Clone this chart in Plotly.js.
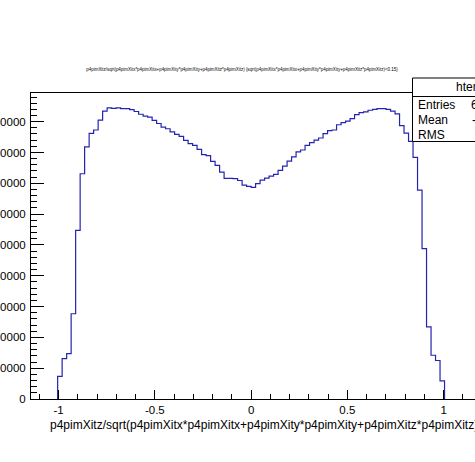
<!DOCTYPE html>
<html>
<head>
<meta charset="utf-8">
<script src="https://cdn.plot.ly/plotly-3.0.1.min.js"></script>
<style>
html,body{margin:0;padding:0;overflow:hidden;background:#fff;}
#chart{width:560px;height:462px;}
</style>
</head>
<body>
<div id="chart"></div>
<script>
// Histogram binning
const binLow = -1.005;
const binWidth = 0.02337;
const counts = [
  7340, 13080, 14720, 27660, 54700, 73100, 81800, 86200, 87300, 90500,
  93400, 94500, 94300, 94500, 94200, 94200, 93900, 93300, 92400, 91800,
  91500, 90400, 89400, 88200, 87700, 86700, 85900, 85200, 83900, 82900,
  82300, 81000, 79300, 79000, 77100, 75800, 73600, 71600, 71600, 71500,
  70900, 69400, 69000, 68700, 69900, 71000, 71700, 72300, 72900, 74200,
  75600, 77200, 78600, 80200, 80800, 82300, 83200, 84000, 84700, 86100,
  87100, 87300, 89000, 89700, 90200, 91000, 92300, 92900, 93200, 93700,
  94000, 94200, 94200, 94000, 93400, 92500, 88700, 86300, 83600, 78400,
  67800, 48800, 23400, 14200, 12500, 5900
];
const xTickVals = [-1, -0.5, 0, 0.5, 1];
const xTickText = ["-1", "-0.5", "0", "0.5", "1"];
const yTickVals = [0, 10000, 20000, 30000, 40000, 50000, 60000, 70000, 80000, 90000];
const yTickText = ["0", "10000", "20000", "30000", "40000", "50000", "60000", "70000", "80000", "90000"];
const histTitle = "p4pimXitz/sqrt(p4pimXitx*p4pimXitx+p4pimXity*p4pimXity+p4pimXitz*p4pimXitz) {sqrt(p4pimXitx*p4pimXitx+p4pimXity*p4pimXity+p4pimXitz*p4pimXitz)<0.15}";
const xTitle = "p4pimXitz/sqrt(p4pimXitx*p4pimXitx+p4pimXity*p4pimXity+p4pimXitz*p4pimXitz)";
const statsName = "htemp";
const statsLabels = ["Entries", "Mean", "RMS"];
const statsValues = ["6512838", "-0.01234", "0.5519"];

// Build step outline: start at bottom of first edge, end at bottom of last edge
const xs = [binLow], ys = [0];
for (let i = 0; i < counts.length; i++) { xs.push(binLow + i * binWidth); ys.push(counts[i]); }
xs.push(binLow + counts.length * binWidth); ys.push(0);

const W = 560, H = 462, L = 31, T = 93, B = 63, PW = 470;
const R = W - L - PW;
const PH = H - T - B;
const px = p => (p - L) / PW;          // pixel -> paper x
const py = p => (T + PH - p) / PH;      // pixel -> paper y

const font = "Liberation Sans, Arial, Helvetica, sans-serif";

const trace = {
  type: 'scatter', mode: 'lines', x: xs, y: ys,
  line: {shape: 'hv', color: '#2424b0', width: 1.2},
  hoverinfo: 'skip', showlegend: false
};

const annotations = [
  {xref: 'paper', yref: 'paper', x: px(48), y: py(425), xanchor: 'left', yanchor: 'middle',
   text: xTitle, showarrow: false, font: {family: font, size: 12.0, color: '#000'}},
  {xref: 'paper', yref: 'paper', x: px(454), y: py(87), xanchor: 'left', yanchor: 'middle',
   text: statsName, showarrow: false, font: {family: font, size: 12, color: '#000'}}
];
const statLabelY = [104.5, 119.5, 134.5];
const statValueX = [469, 469.5, 482];
statsLabels.forEach((lab, i) => {
  annotations.push({xref: 'paper', yref: 'paper', x: px(416), y: py(statLabelY[i]), xanchor: 'left', yanchor: 'middle',
    text: lab, showarrow: false, font: {family: font, size: 12, color: '#000'}});
  annotations.push({xref: 'paper', yref: 'paper', x: px(statValueX[i]), y: py(statLabelY[i]), xanchor: 'left', yanchor: 'middle',
    text: statsValues[i], showarrow: false, font: {family: font, size: 12, color: '#000'}});
});

const layout = {
  width: W, height: H,
  margin: {l: L, r: R, t: T, b: B, pad: 0},
  paper_bgcolor: '#fff', plot_bgcolor: '#fff',
  title: {text: histTitle, xref: 'container', yref: 'container', x: 242 / W, y: 1 - 69 / H,
          xanchor: 'center', yanchor: 'middle', font: {family: font, size: 4.45, color: '#000'}},
  xaxis: {
    range: [-1.1434, -1.1434 + PW / 192.5], showgrid: false, zeroline: false,
    showline: true, linecolor: '#000', linewidth: 1, mirror: true,
    ticks: 'inside', ticklen: 9, tickcolor: '#000', tickwidth: 1,
    tickmode: 'array', tickvals: xTickVals, ticktext: xTickText,
    minor: {tickmode: 'linear', tick0: 0, dtick: 0.1, ticks: 'inside', ticklen: 5, tickcolor: '#000'},
    tickfont: {family: font, size: 11.5, color: '#000'}, fixedrange: true
  },
  yaxis: {
    range: [0, 99300], showgrid: false, zeroline: false,
    showline: true, linecolor: '#000', linewidth: 1, mirror: true,
    ticks: 'inside', ticklen: 13, tickcolor: '#000', tickwidth: 1,
    tickmode: 'array', tickvals: yTickVals, ticktext: yTickText,
    ticklabelstandoff: 2,
    minor: {tickmode: 'linear', tick0: 0, dtick: 2000, ticks: 'inside', ticklen: 6, tickcolor: '#000'},
    tickfont: {family: font, size: 11.5, color: '#000'}, fixedrange: true
  },
  shapes: [
    {type: 'rect', xref: 'paper', yref: 'paper', x0: px(412.5), x1: px(540), y0: py(141.5), y1: py(78),
     line: {color: '#000', width: 1}, fillcolor: '#fff', layer: 'above'},
    {type: 'line', xref: 'paper', yref: 'paper', x0: px(412.5), x1: px(540), y0: py(96.5), y1: py(96.5),
     line: {color: '#000', width: 1}, layer: 'above'}
  ],
  annotations: annotations
};

Plotly.newPlot('chart', [trace], layout, {staticPlot: true, displayModeBar: false});
</script>
</body>
</html>
